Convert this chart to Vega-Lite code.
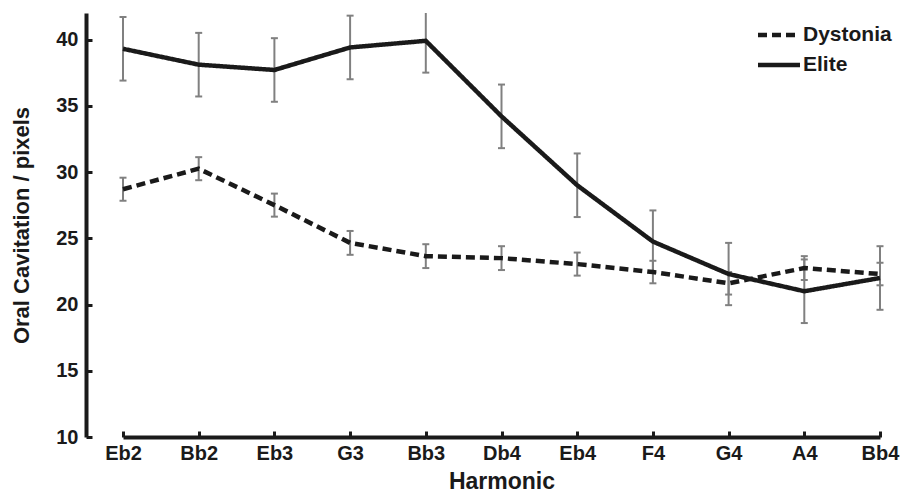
{
  "$schema": "https://vega.github.io/schema/vega-lite/v6.json",
  "width": 824,
  "height": 424,
  "autosize": "none",
  "padding": {"left": 86, "top": 13, "right": 0, "bottom": 60},
  "background": "white",
  "config": {
    "font": "Liberation Sans",
    "view": {"stroke": null},
    "axis": {
      "labelFont": "Liberation Sans",
      "labelFontWeight": "bold",
      "labelFontSize": 20,
      "labelColor": "#1a1a1a",
      "titleFont": "Liberation Sans",
      "titleFontWeight": "bold",
      "titleFontSize": 22,
      "titleColor": "#1a1a1a",
      "domainColor": "#1a1a1a",
      "domainWidth": 4,
      "tickColor": "#1a1a1a",
      "tickWidth": 3,
      "tickSize": -6,
      "grid": false
    }
  },
  "data": {
    "values": [
      {"harmonic": "Eb2", "group": "Elite", "mean": 39.3, "err": 2.4},
      {"harmonic": "Bb2", "group": "Elite", "mean": 38.1, "err": 2.4},
      {"harmonic": "Eb3", "group": "Elite", "mean": 37.7, "err": 2.4},
      {"harmonic": "G3", "group": "Elite", "mean": 39.4, "err": 2.4},
      {"harmonic": "Bb3", "group": "Elite", "mean": 39.9, "err": 2.4},
      {"harmonic": "Db4", "group": "Elite", "mean": 34.2, "err": 2.4},
      {"harmonic": "Eb4", "group": "Elite", "mean": 29.0, "err": 2.4},
      {"harmonic": "F4", "group": "Elite", "mean": 24.75, "err": 2.35},
      {"harmonic": "G4", "group": "Elite", "mean": 22.3, "err": 2.35},
      {"harmonic": "A4", "group": "Elite", "mean": 21.0, "err": 2.4},
      {"harmonic": "Bb4", "group": "Elite", "mean": 22.0, "err": 2.4},
      {"harmonic": "Eb2", "group": "Dystonia", "mean": 28.7, "err": 0.87},
      {"harmonic": "Bb2", "group": "Dystonia", "mean": 30.25, "err": 0.87},
      {"harmonic": "Eb3", "group": "Dystonia", "mean": 27.5, "err": 0.87},
      {"harmonic": "G3", "group": "Dystonia", "mean": 24.65, "err": 0.9},
      {"harmonic": "Bb3", "group": "Dystonia", "mean": 23.65, "err": 0.9},
      {"harmonic": "Db4", "group": "Dystonia", "mean": 23.5, "err": 0.9},
      {"harmonic": "Eb4", "group": "Dystonia", "mean": 23.05, "err": 0.87},
      {"harmonic": "F4", "group": "Dystonia", "mean": 22.45, "err": 0.85},
      {"harmonic": "G4", "group": "Dystonia", "mean": 21.6, "err": 0.85},
      {"harmonic": "A4", "group": "Dystonia", "mean": 22.75, "err": 0.9},
      {"harmonic": "Bb4", "group": "Dystonia", "mean": 22.3, "err": 0.85}
    ]
  },
  "transform": [
    {"calculate": "datum.mean - datum.err", "as": "lo"},
    {"calculate": "datum.mean + datum.err", "as": "hi"}
  ],
  "encoding": {
    "x": {
      "field": "harmonic",
      "type": "ordinal",
      "sort": ["Eb2", "Bb2", "Eb3", "G3", "Bb3", "Db4", "Eb4", "F4", "G4", "A4", "Bb4"],
      "scale": {"type": "point", "range": [37, 794], "padding": 0},
      "axis": {"title": "Harmonic", "labelAngle": 0, "labelPadding": 12, "titlePadding": 7, "titleFontSize": 23}
    }
  },
  "layer": [
    {
      "mark": {"type": "rule", "color": "#808080", "strokeWidth": 2, "clip": true},
      "encoding": {
        "y": {"field": "lo", "type": "quantitative"},
        "y2": {"field": "hi"}
      }
    },
    {
      "mark": {"type": "tick", "color": "#808080", "thickness": 2, "size": 7, "clip": true, "opacity": 1},
      "encoding": {"y": {"field": "lo", "type": "quantitative"}}
    },
    {
      "mark": {"type": "tick", "color": "#808080", "thickness": 2, "size": 7, "clip": true, "opacity": 1},
      "encoding": {"y": {"field": "hi", "type": "quantitative"}}
    },
    {
      "mark": {"type": "line", "color": "#1a1a1a", "strokeWidth": 4.5, "clip": true},
      "encoding": {
        "y": {
          "field": "mean",
          "type": "quantitative",
          "scale": {"domain": [10, 42], "nice": false, "zero": false},
          "axis": {"title": "Oral Cavitation / pixels", "values": [10, 15, 20, 25, 30, 35, 40], "labelPadding": 14, "titlePadding": 22}
        },
        "strokeDash": {
          "field": "group",
          "type": "nominal",
          "scale": {"domain": ["Dystonia", "Elite"], "range": [[9, 5], [1, 0]]},
          "legend": {
            "title": null,
            "orient": "none",
            "legendX": 680,
            "legendY": 9,
            "symbolType": "M-2,0H2",
            "symbolSize": 441,
            "symbolStrokeWidth": 4.5,
            "symbolStrokeColor": "#1a1a1a",
            "labelFont": "Liberation Sans",
            "labelFontWeight": "bold",
            "labelFontSize": 21,
            "labelColor": "#1a1a1a",
            "labelOffset": 11,
            "rowPadding": 7
          }
        }
      }
    }
  ],
  "resolve": {"scale": {"y": "shared"}}
}
